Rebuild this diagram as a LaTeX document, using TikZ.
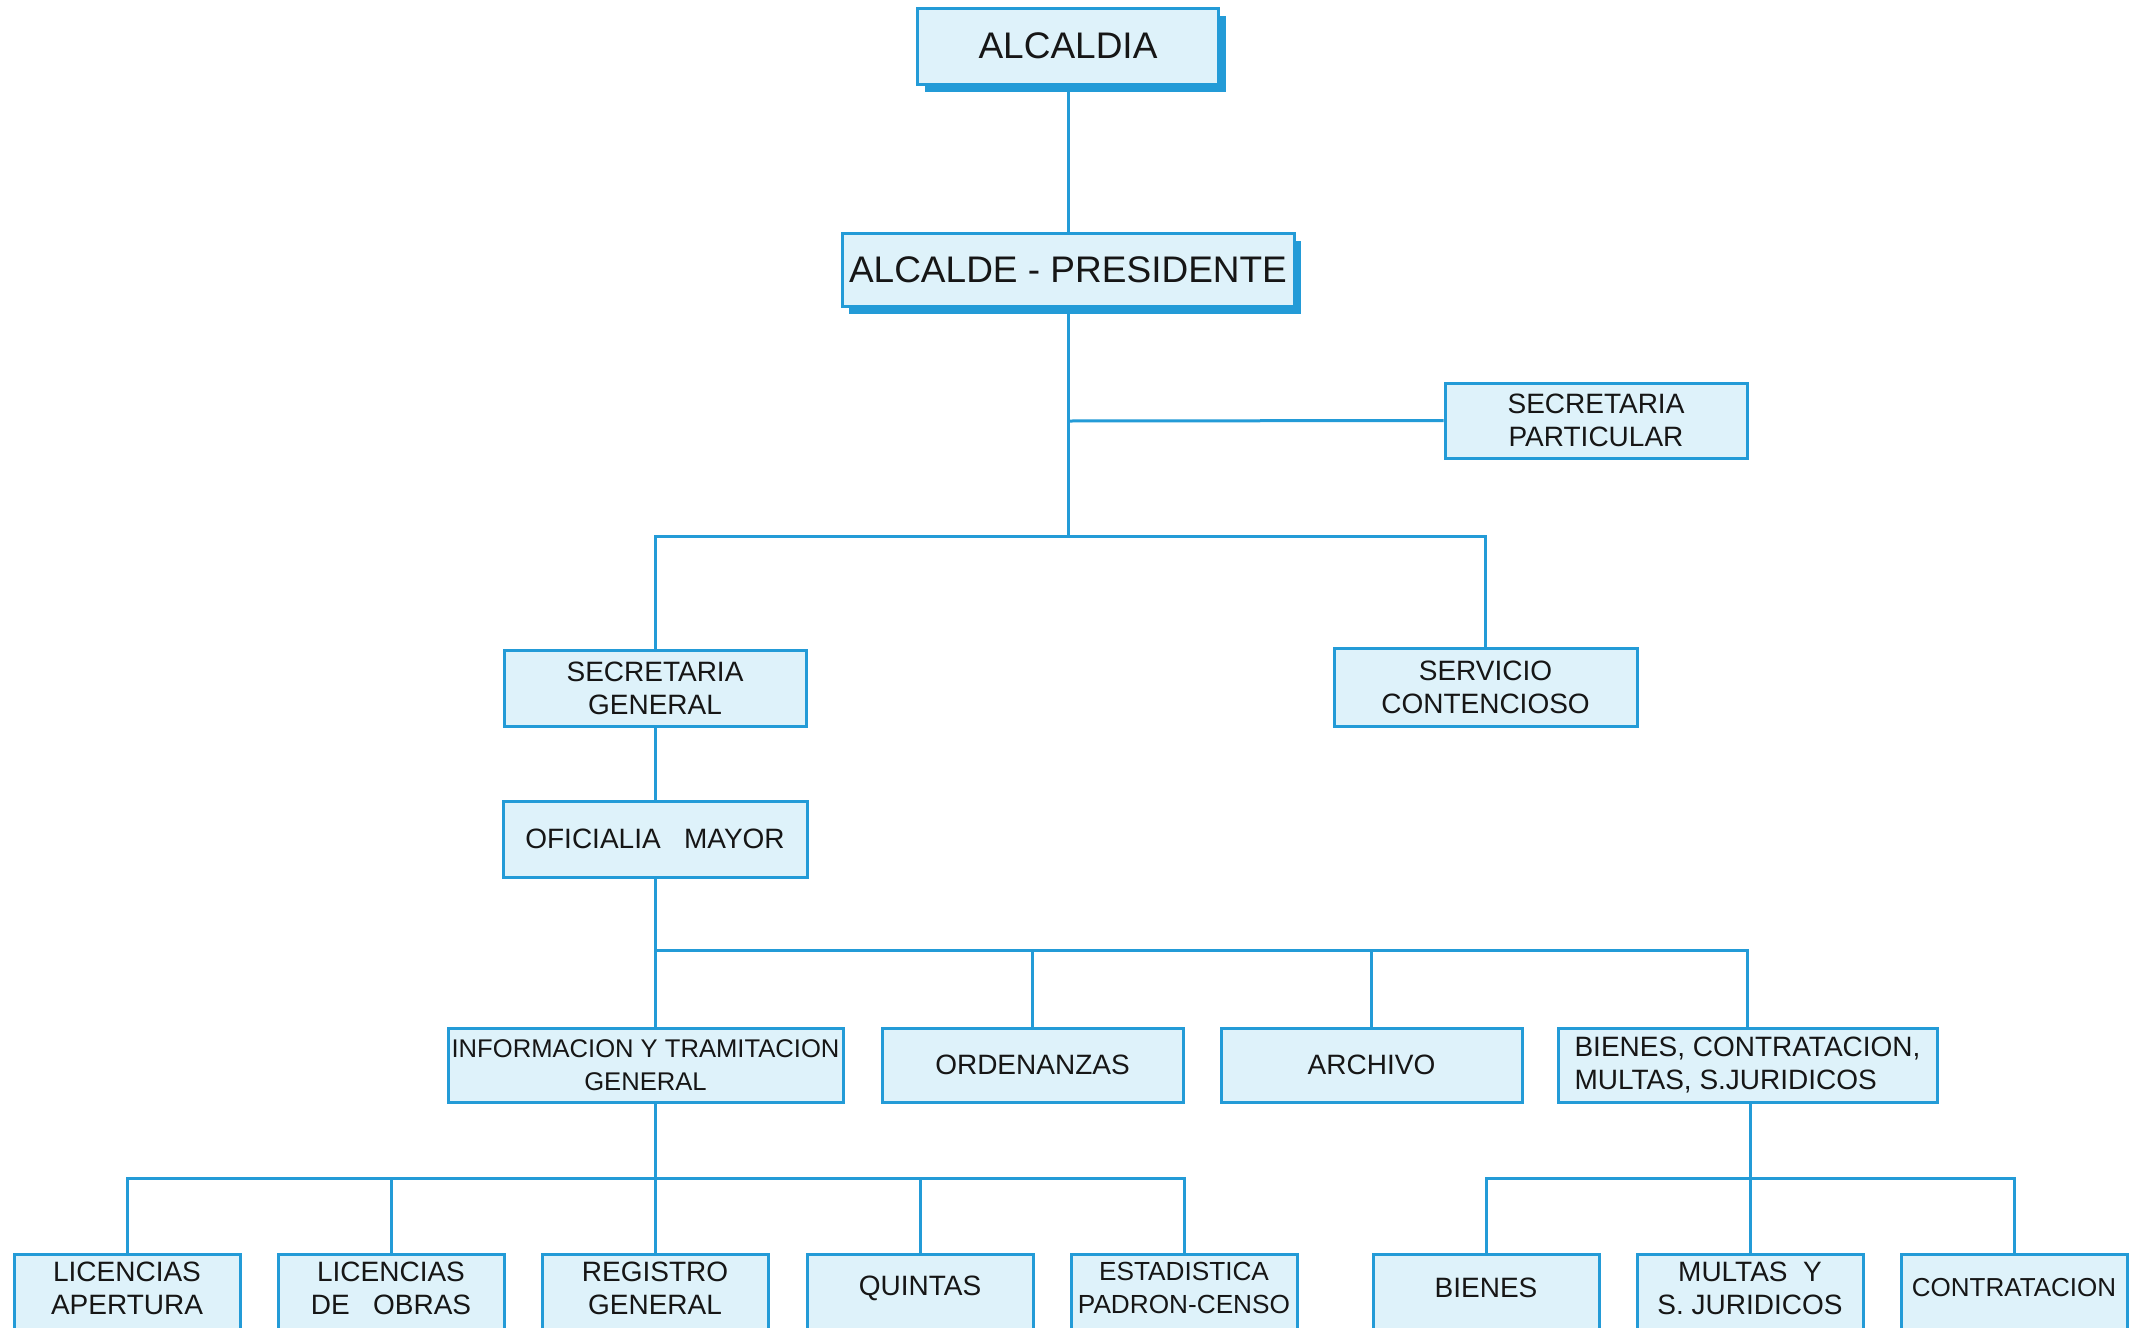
\documentclass[tikz,border=0pt]{standalone}
\usepackage{fontspec}
\setmainfont{Liberation Sans}
\usetikzlibrary{shadows}
\definecolor{lineblue}{RGB}{35,155,215}
\definecolor{boxfill}{RGB}{222,242,250}
\definecolor{ink}{RGB}{22,22,22}
\begin{document}
\begin{tikzpicture}[x=0.5pt,y=-0.5pt,
  conn/.style={draw=lineblue, line width=1.5pt},
  box/.style={draw=lineblue, fill=boxfill, line width=1.5pt, inner sep=0pt,
    text=ink, align=center, font=\fontsize{14}{16.5}\selectfont, minimum height=38pt},
  topbox/.style={box, font=\fontsize{18.5}{22}\selectfont,
    drop shadow={shadow xshift=3.5pt, shadow yshift=-4pt, fill=lineblue, opacity=1}},
  midbox/.style={box, minimum width=151pt},
  lowbox/.style={box, minimum width=113pt, minimum height=45.5pt},
  btext/.style={font=\fontsize{14}{16.5}\selectfont, text=ink, align=center, yshift=5.75pt, inner sep=0pt},
  small/.style={font=\fontsize{13.1}{16.5}\selectfont}
]
\clip (0,0) rectangle (2138,1328);
\fill[white] (0,0) rectangle (2138,1328);

% level 1-2
\node[topbox, minimum width=150.5pt] (alc) at (1068,46) {ALCALDIA};
\node[topbox, minimum width=226pt, minimum height=36.5pt] (pres) at (1068,269.5) {ALCALDE - PRESIDENTE};
\node[midbox, minimum height=37.5pt] (secpart) at (1596,420.5) {SECRETARIA\\PARTICULAR};

% level 3
\node[midbox] (secgen) at (655,688) {SECRETARIA\\GENERAL};
\node[midbox, minimum width=151.5pt, minimum height=39pt] (serv) at (1485.5,687.5) {SERVICIO\\CONTENCIOSO};
\node[midbox, minimum width=152pt] (ofi) at (655,839) {OFICIALIA\ \ \ MAYOR};

% level 4
\node[box, font=\fontsize{12.8}{16.5}\selectfont, minimum width=197.5pt, minimum height=37pt] (info) at (645.5,1065) {INFORMACION Y TRAMITACION\\GENERAL};
\node[midbox, minimum width=150.5pt, minimum height=37pt] (ord) at (1032.5,1065) {ORDENANZAS};
\node[midbox, minimum width=150.5pt, minimum height=37pt] (arch) at (1371.5,1065) {ARCHIVO};
\node[box, align=left, minimum width=189.5pt, minimum height=37pt] (bienc) at (1747.5,1065) {BIENES, CONTRATACION,\\MULTAS, S.JURIDICOS};

% level 5
\node[lowbox, label={[btext]center:LICENCIAS\\APERTURA}] (lic) at (127,1299.5) {};
\node[lowbox, label={[btext]center:LICENCIAS\\DE\ \ \ OBRAS}] (obr) at (391,1299.5) {};
\node[lowbox, label={[btext]center:REGISTRO\\GENERAL}] (reg) at (655,1299.5) {};
\node[lowbox, label={[btext]center:QUINTAS}] (qui) at (920,1299.5) {};
\node[lowbox, label={[btext,small]center:ESTADISTICA\\PADRON-CENSO}] (est) at (1184,1299.5) {};
\node[lowbox, label={[btext]center:BIENES}] (bie) at (1486,1299.5) {};
\node[lowbox, label={[btext]center:MULTAS\ \ Y\\S. JURIDICOS}] (mul) at (1750,1299.5) {};
\node[lowbox, label={[btext,font=\fontsize{13}{16.5}\selectfont]center:CONTRATACION}] (con) at (2014,1299.5) {};

% connectors
\coordinate (j1) at (1068,421);
\coordinate (j2) at (1068,536);
\coordinate (j3) at (655,950);
\coordinate (j4) at (655,1178);

\draw[conn] (alc.south) -- (pres.north);
\draw[conn] (pres.south) -- (j2);
\draw[conn] (j1) -- (secpart.west);
\draw[conn] (secgen.north) -- (secgen.north |- j2) -| (serv.north);
\draw[conn] (secgen.south) -- (ofi.north);
\draw[conn] (ofi.south) -- (ofi.south |- info.north);
\draw[conn] (j3) -| (bienc.north);
\draw[conn] (ord.north) -- (ord.north |- j3);
\draw[conn] (arch.north) -- (arch.north |- j3);
\draw[conn] (reg.north |- info.south) -- (reg.north);
\draw[conn] (lic.north) -- (lic.north |- j4) -| (est.north);
\draw[conn] (obr.north) -- (obr.north |- j4);
\draw[conn] (qui.north) -- (qui.north |- j4);
\draw[conn] (mul.north |- bienc.south) -- (mul.north);
\draw[conn] (bie.north) -- (bie.north |- j4) -| (con.north);
\end{tikzpicture}
\end{document}
